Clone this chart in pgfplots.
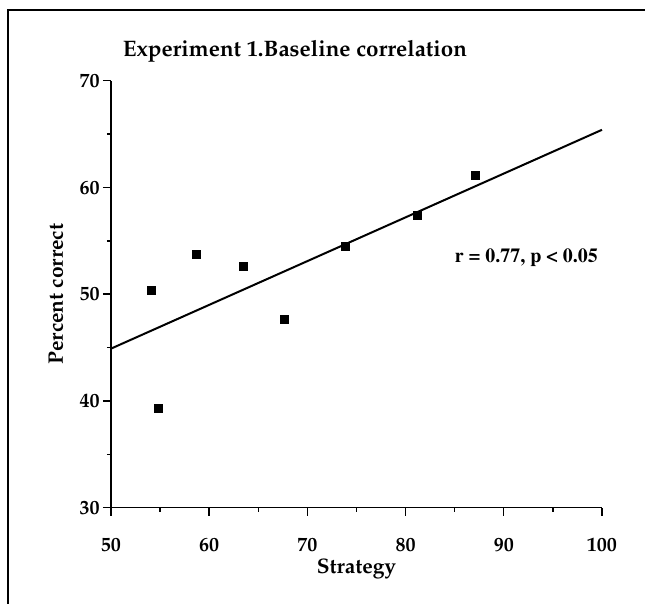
\documentclass[border=0pt]{standalone}
\usepackage[T1]{fontenc}
\usepackage{mathpazo}
\usepackage{pgfplots}
\pgfplotsset{compat=1.18}

\begin{document}
\begin{tikzpicture}
% page size fixed to the reference proportions (1px = 0.5pt)
\useasboundingbox (-55.5pt,-48.15pt) rectangle (267pt,253.85pt);
\draw[line width=1pt] (-51.5pt,-48.15pt) -- (-51.5pt,248.85pt) -- (267pt,248.85pt);

\begin{axis}[
    at={(0pt,0pt)}, anchor=south west,
    scale only axis,
    width=245.5pt, height=213.5pt,
    xmin=50, xmax=100, ymin=30, ymax=70,
    axis x line*=bottom, axis y line*=left,
    axis line style={line width=0.7pt},
    xtick={50,60,...,100}, ytick={30,40,...,70},
    minor tick num=1,
    tick align=outside,
    major tick length=4pt, minor tick length=2pt,
    tick style={line width=0.7pt, black},
    /pgf/number format/assume math mode=true,
    ticklabel style={font=\fontsize{10}{11}\selectfont\bfseries},
    xticklabel style={anchor=base, yshift=-17.8pt},
    yticklabel style={anchor=east, inner sep=0pt, xshift=-1.5pt},
    xlabel={Strategy},
    ylabel={Percent correct},
    label style={font=\fontsize{10.5}{12}\selectfont\bfseries},
    xlabel style={at={(axis description cs:0.5,0)}, anchor=base, yshift=-33pt},
    ylabel style={at={(axis description cs:0,0.5)}, anchor=base, rotate=0, yshift=24pt},
    clip=false,
]
\addplot[only marks, mark=square*, mark size=2pt, black] coordinates {
    (54.1,50.4) (54.8,39.3) (58.7,53.7) (63.5,52.6)
    (67.7,47.6) (73.9,54.5) (81.2,57.4) (87.1,61.1)
};
\addplot[black, line width=1pt, no marks] coordinates {(50,44.9) (100,65.4)};
\node[anchor=base west, font=\fontsize{11.2}{13}\selectfont\bfseries] at (axis cs:50.5,72.25) {Experiment 1.Baseline correlation};
\node[font=\fontfamily{ptm}\fontsize{10}{12}\selectfont\bfseries] at (axis cs:92.3,53.4) {r = 0.77, p \textless{} 0.05};
\end{axis}
\end{tikzpicture}
\end{document}
